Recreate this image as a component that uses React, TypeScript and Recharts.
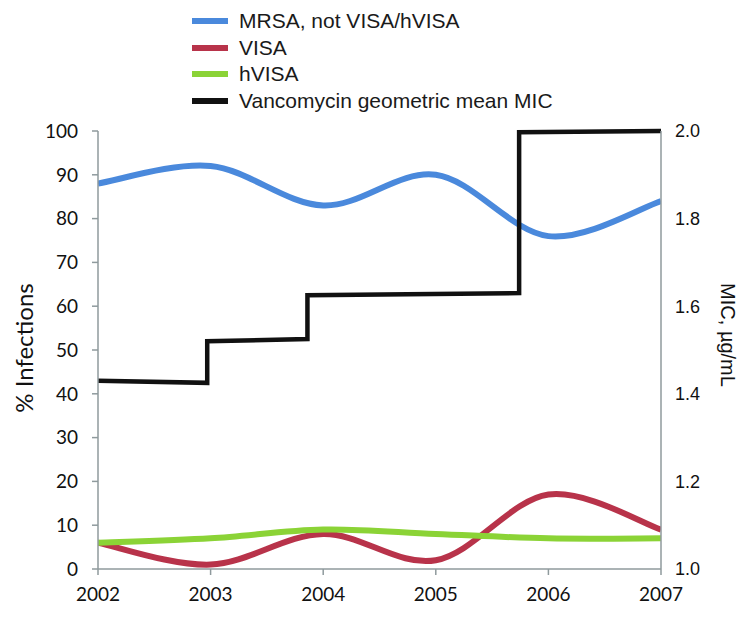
import React from 'react';
import { LineChart, Line, XAxis, YAxis } from 'recharts';

const years = [2002, 2003, 2004, 2005, 2006, 2007];
const mrsa = [88, 92, 83, 90, 76, 84];
const visa = [6, 1, 8, 2, 17, 9];
const hvisa = [6, 7, 9, 8, 7, 7];

const micYears = [2002, 2002.97, 2002.97, 2003.86, 2003.86, 2005.74, 2005.74, 2007];
const micValues = [1.43, 1.425, 1.52, 1.525, 1.625, 1.63, 1.997, 2.0];

const leftTicks = [0, 10, 20, 30, 40, 50, 60, 70, 80, 90, 100];
const rightTicks = [1.0, 1.2, 1.4, 1.6, 1.8, 2.0];

const legendItems = [
  { name: 'MRSA, not VISA/hVISA', color: '#4a89dc' },
  { name: 'VISA', color: '#b8334a' },
  { name: 'hVISA', color: '#8bd336' },
  { name: 'Vancomycin geometric mean MIC', color: '#111111' },
];

const toData = (vals: number[]) => years.map((y, i) => ({ year: y, value: vals[i] }));
const mrsaData = toData(mrsa);
const visaData = toData(visa);
const hvisaData = toData(hvisa);
const micData = micYears.map((y, i) => ({ year: y, value: micValues[i] }));

// Excel-like smoothed line (Catmull-Rom through the points)
const excelCurve: any = (context: any) => {
  let pts: number[][] = [];
  return {
    areaStart() {},
    areaEnd() {},
    lineStart() {
      pts = [];
    },
    point(x: number, y: number) {
      pts.push([+x, +y]);
    },
    lineEnd() {
      if (!pts.length) return;
      context.moveTo(pts[0][0], pts[0][1]);
      for (let i = 0; i < pts.length - 1; i++) {
        const p0 = pts[i - 1] || pts[i];
        const p1 = pts[i];
        const p2 = pts[i + 1];
        const p3 = pts[i + 2] || p2;
        const c1x = p1[0] + (p2[0] - p0[0]) / 6;
        const c1y = p1[1] + (p2[1] - p0[1]) / 6;
        const c2x = p2[0] - (p3[0] - p1[0]) / 6;
        const c2y = p2[1] - (p3[1] - p1[1]) / 6;
        context.bezierCurveTo(c1x, c1y, c2x, c2y, p2[0], p2[1]);
      }
    },
  };
};

const axisColor = '#8f9a9d';

const LeftLabel = (props: any) => {
  const vb = props.viewBox || {};
  const cx = vb.x - 15;
  const cy = vb.y + vb.height / 2 - 2;
  return (
    <text
      x={cx}
      y={cy}
      transform={`rotate(-90 ${cx} ${cy})`}
      textAnchor="middle"
      dominantBaseline="central"
      fontFamily="Lato"
      fontSize={24}
      fill="#111"
    >
      % Infections
    </text>
  );
};

const RightLabel = (props: any) => {
  const vb = props.viewBox || {};
  const cx = vb.x + 67;
  const cy = vb.y + vb.height / 2 - 15;
  return (
    <text
      x={cx}
      y={cy}
      transform={`rotate(90 ${cx} ${cy})`}
      textAnchor="middle"
      dominantBaseline="central"
      fontFamily="Liberation Sans"
      fontSize={20}
      fill="#111"
    >
      MIC, µg/mL
    </text>
  );
};

export default function App() {
  return (
    <div style={{ position: 'absolute', left: 0, top: 0, width: 750, height: 626, background: '#fff' }}>
      <div style={{ position: 'absolute', left: 192, top: 8, fontFamily: 'Liberation Sans', fontSize: 21, color: '#1a1a1a' }}>
        {legendItems.map((it) => (
          <div key={it.name} style={{ display: 'flex', alignItems: 'center', height: 26.5 }}>
            <div style={{ width: 36, height: 6, background: it.color, marginRight: 11 }} />
            <span style={{ whiteSpace: 'nowrap' }}>{it.name}</span>
          </div>
        ))}
      </div>
      <LineChart width={750} height={626} margin={{ top: 131, right: 29, left: 38, bottom: 17 }}>
        <XAxis
          type="number"
          dataKey="year"
          domain={[2002, 2007]}
          ticks={years}
          allowDataOverflow
          stroke={axisColor}
          strokeWidth={1.5}
          tickSize={6}
          tickMargin={13}
          height={40}
          tick={{ fontFamily: 'Lato', fontSize: 19, fill: '#111' }}
          interval={0}
        />
        <YAxis
          yAxisId="left"
          orientation="left"
          domain={[0, 100]}
          ticks={leftTicks}
          interval={0}
          width={60}
          stroke={axisColor}
          strokeWidth={1.5}
          tickSize={6}
          tickMargin={14}
          tick={{ fontFamily: 'Lato', fontSize: 19, fill: '#111' }}
          label={<LeftLabel />}
        />
        <YAxis
          yAxisId="right"
          orientation="right"
          domain={[1, 2]}
          ticks={rightTicks}
          interval={0}
          width={60}
          stroke={axisColor}
          strokeWidth={1.5}
          tickLine={false}
          tickSize={0}
          tickMargin={14}
          tickFormatter={(v: number) => v.toFixed(1)}
          tick={{ fontFamily: 'Liberation Sans', fontSize: 18, fill: '#111' }}
          label={<RightLabel />}
        />
        <Line yAxisId="left" data={visaData} dataKey="value" name="VISA" type={excelCurve} stroke="#b8334a" strokeWidth={6} dot={false} isAnimationActive={false} />
        <Line yAxisId="left" data={hvisaData} dataKey="value" name="hVISA" type={excelCurve} stroke="#8bd336" strokeWidth={6} dot={false} isAnimationActive={false} />
        <Line yAxisId="left" data={mrsaData} dataKey="value" name="MRSA, not VISA/hVISA" type={excelCurve} stroke="#4a89dc" strokeWidth={6} dot={false} isAnimationActive={false} />
        <Line yAxisId="right" data={micData} dataKey="value" name="Vancomycin geometric mean MIC" type="linear" stroke="#111111" strokeWidth={4.5} dot={false} isAnimationActive={false} />
      </LineChart>
    </div>
  );
}
